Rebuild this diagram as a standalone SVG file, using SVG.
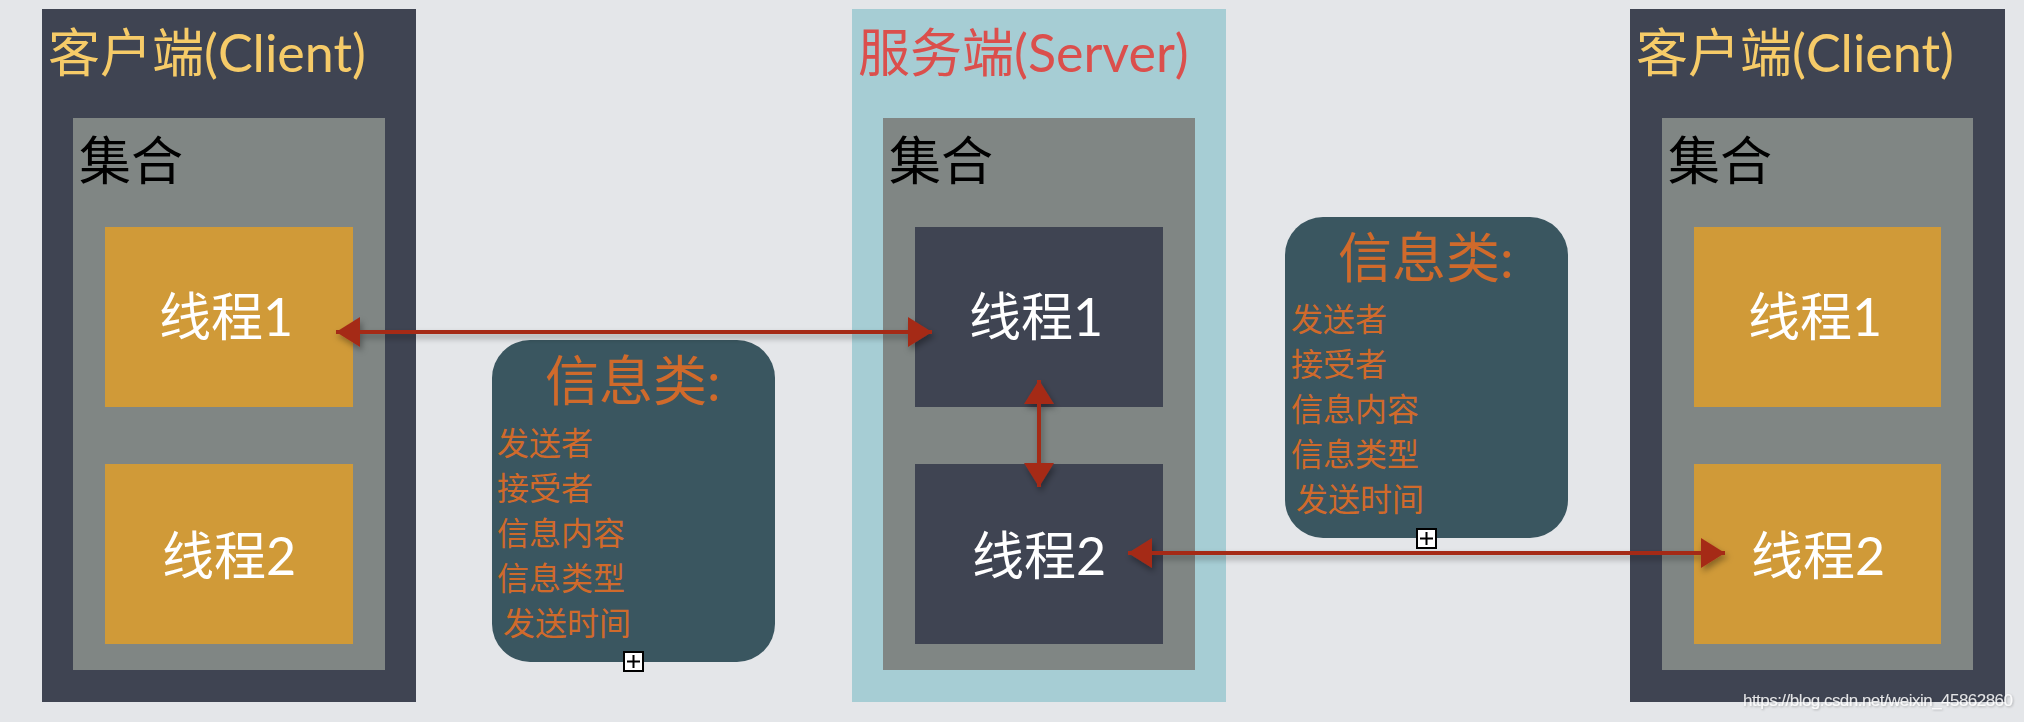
<svg xmlns="http://www.w3.org/2000/svg" width="2024" height="722" viewBox="0 0 2024 722">
<style>
.bg{fill:#e4e6e9}
.outer{fill:#3f4452}
.srv{fill:#a6cdd4}
.set{fill:#808684}
.thr-o{fill:#d09a38}
.thr-d{fill:#3f4452}
.t{font-family:Lato,"Noto Sans CJK SC",sans-serif}
.title-c{font-size:52px;fill:#f6cb68}
.title-s{font-size:52px;fill:#db4f4c}
.setlbl{font-size:52px;fill:#000}
.thr{font-size:52px;fill:#fff;text-anchor:middle}
.info{fill:#3a5660}
.ititle{font-size:54px;fill:#d06a2b}
.item{font-size:32px;fill:#d06a2b}
.icon{fill:#fff;stroke:#000;stroke-width:2}
.conn{stroke:#a52a18;stroke-width:4;fill:none}
.wm{font-family:"Liberation Sans",Arial,sans-serif;font-size:17px;fill:#fff;fill-opacity:0.85}
</style>
<defs>
<marker id="ah" viewBox="0 0 24 30" refX="24" refY="15" markerWidth="24" markerHeight="30" markerUnits="userSpaceOnUse" orient="auto-start-reverse">
<path d="M0,0 L24,15 L0,30 z" fill="#a52a18"/>
</marker>
<filter id="sh" x="-10%" y="-50%" width="120%" height="200%">
<feDropShadow dx="2" dy="4" stdDeviation="3" flood-color="#000" flood-opacity="0.35"/>
</filter>
<filter id="wsh"><feDropShadow dx="1" dy="1" stdDeviation="1" flood-color="#000" flood-opacity="0.3"/></filter>
</defs>
<rect class="bg" x="0" y="0" width="2024" height="722"/>

<g id="client-left">
<rect class="outer" x="42" y="9" width="374" height="693"/>
<text class="t title-c" x="48" y="72">客户端(Client)</text>
<g id="set-left">
<rect class="set" x="73" y="118" width="312" height="552"/>
<text class="t setlbl" x="79" y="180">集合</text>
</g>
<g id="thread1-left">
<rect class="thr-o" x="105" y="227" width="248" height="180"/>
<text class="t thr" x="226" y="336">线程1</text>
</g>
<g id="thread2-left">
<rect class="thr-o" x="105" y="464" width="248" height="180"/>
<text class="t thr" x="229" y="575">线程2</text>
</g>
</g>

<g id="server">
<rect class="srv" x="852" y="9" width="374" height="693"/>
<text class="t title-s" x="858" y="72">服务端(Server)</text>
<g id="set-server">
<rect class="set" x="883" y="118" width="312" height="552"/>
<text class="t setlbl" x="889" y="180">集合</text>
</g>
<g id="thread1-server">
<rect class="thr-d" x="915" y="227" width="248" height="180"/>
<text class="t thr" x="1036" y="336">线程1</text>
</g>
<g id="thread2-server">
<rect class="thr-d" x="915" y="464" width="248" height="180"/>
<text class="t thr" x="1039" y="575">线程2</text>
</g>
</g>

<g id="client-right">
<rect class="outer" x="1630" y="9" width="375" height="693"/>
<text class="t title-c" x="1636" y="72">客户端(Client)</text>
<g id="set-right">
<rect class="set" x="1662" y="118" width="311" height="552"/>
<text class="t setlbl" x="1668" y="180">集合</text>
</g>
<g id="thread1-right">
<rect class="thr-o" x="1694" y="227" width="247" height="180"/>
<text class="t thr" x="1815" y="336">线程1</text>
</g>
<g id="thread2-right">
<rect class="thr-o" x="1694" y="464" width="247" height="180"/>
<text class="t thr" x="1818" y="575">线程2</text>
</g>
</g>

<g id="info-1">
<rect class="info" x="492" y="340" width="283" height="322" rx="38"/>
<text class="t ititle" x="545" y="401">信息类:</text>
<text class="t item" x="497" y="455">发送者</text>
<text class="t item" x="497" y="500">接受者</text>
<text class="t item" x="497" y="545">信息内容</text>
<text class="t item" x="497" y="590">信息类型</text>
<text class="t item" x="503" y="635">发送时间</text>
<rect class="icon" x="624" y="652" width="19" height="19"/>
<path d="M627,661.5 H640 M633.5,655 V668" stroke="#000" stroke-width="2"/>
</g>

<g id="info-2">
<rect class="info" x="1285" y="217" width="283" height="321" rx="38"/>
<text class="t ititle" x="1338" y="278">信息类:</text>
<text class="t item" x="1291" y="331">发送者</text>
<text class="t item" x="1291" y="376">接受者</text>
<text class="t item" x="1291" y="421">信息内容</text>
<text class="t item" x="1291" y="466">信息类型</text>
<text class="t item" x="1296" y="511">发送时间</text>
<rect class="icon" x="1417" y="529" width="19" height="19"/>
<path d="M1420,538.5 H1433 M1426.5,532 V545" stroke="#000" stroke-width="2"/>
</g>

<g id="connectors" filter="url(#sh)">
<line class="conn" x1="336" y1="332" x2="932" y2="332" marker-start="url(#ah)" marker-end="url(#ah)"/>
<line class="conn" x1="1039" y1="380" x2="1039" y2="487" marker-start="url(#ah)" marker-end="url(#ah)"/>
<line class="conn" x1="1128" y1="553" x2="1725" y2="553" marker-start="url(#ah)" marker-end="url(#ah)"/>
</g>

<text class="wm" x="1743" y="706" textLength="270" filter="url(#wsh)">https://blog.csdn.net/weixin_45862860</text>
</svg>
